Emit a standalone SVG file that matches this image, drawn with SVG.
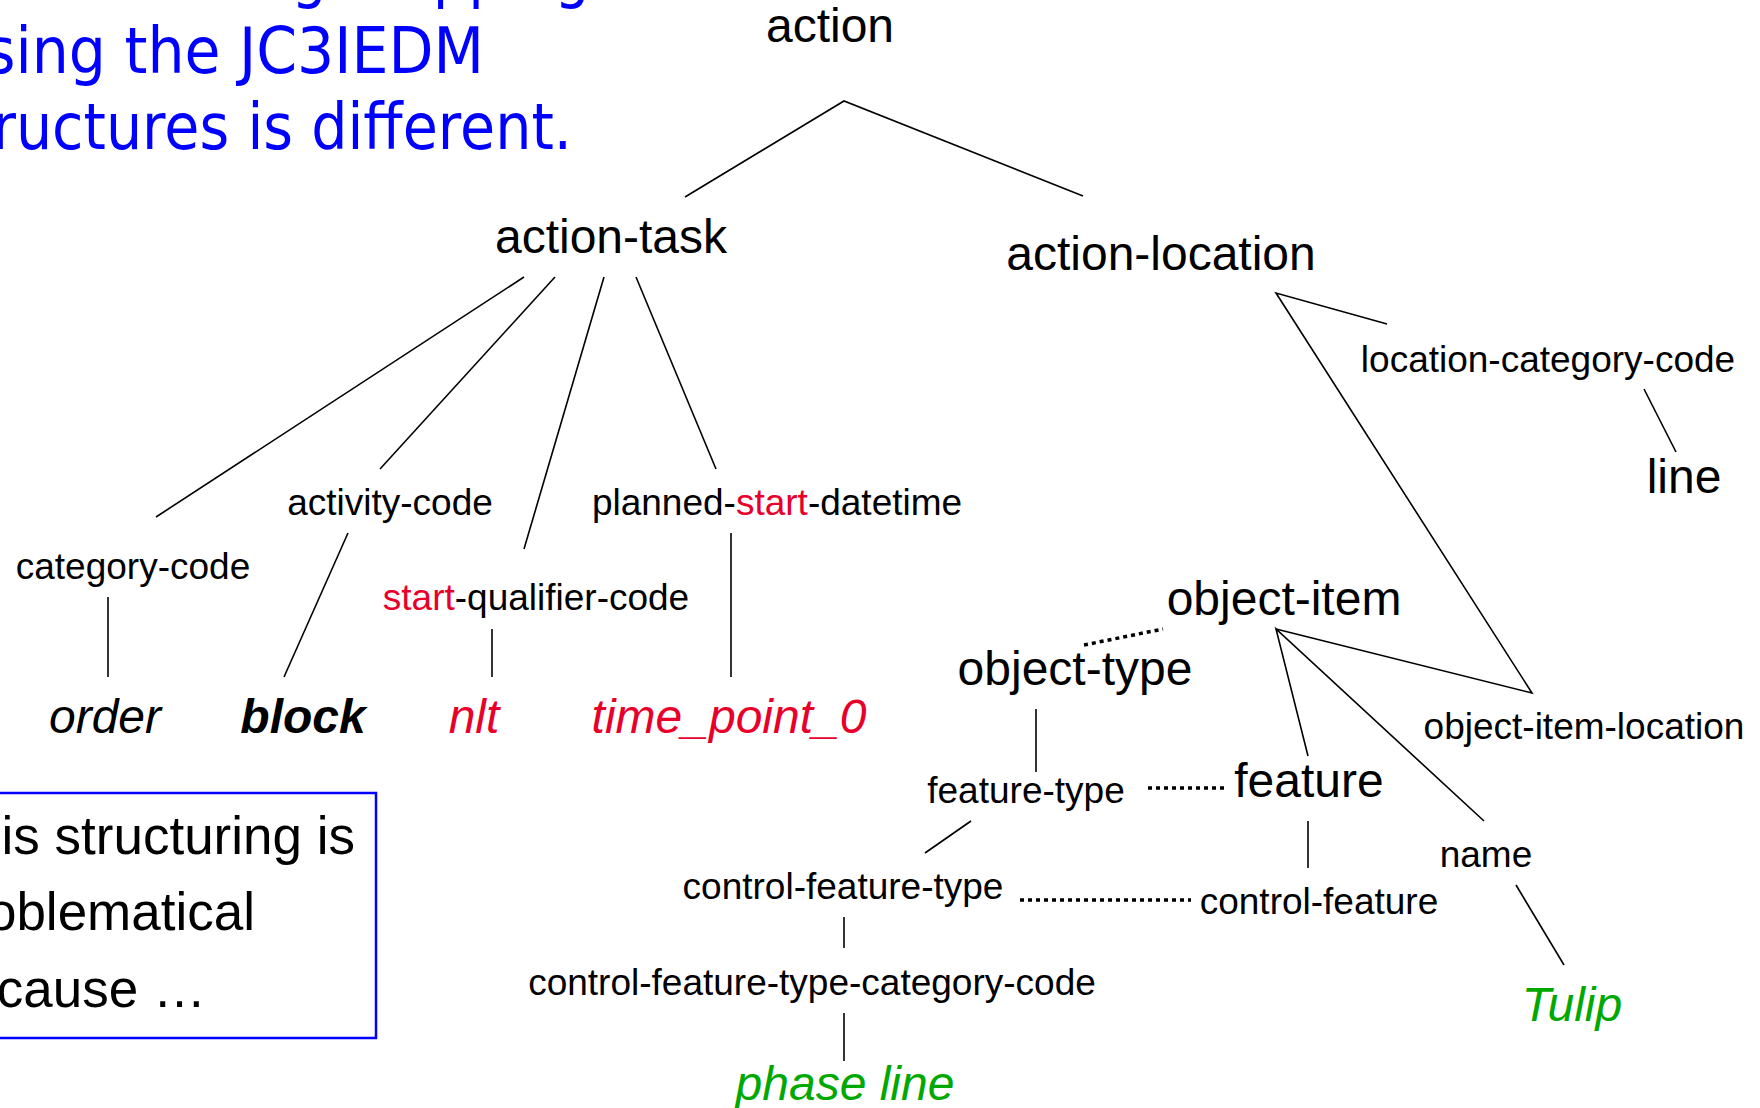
<svg xmlns="http://www.w3.org/2000/svg" width="1760" height="1108" viewBox="0 0 1760 1108">
<style>
.t{font-family:"Liberation Sans",Arial,sans-serif;fill:#000;text-anchor:middle}
.big{font-size:48px}
.sm{font-size:37px}
.it{font-style:italic}
.red{fill:#E8002A}
.grn{fill:#00A800}
.title{font-family:"DejaVu Sans",Tahoma,sans-serif;font-size:64px;fill:#0000FF}
.box{font-family:"Liberation Sans",Arial,sans-serif;font-size:53px;fill:#000;text-anchor:end}
.ln{stroke:#000;stroke-width:1.6;fill:none}
.dot{stroke:#000;stroke-width:3.5;stroke-dasharray:4 4;fill:none}
</style>
<rect width="1760" height="1108" fill="#fff"/>
<g id="title">
<text class="title" x="83" y="-4" textLength="507" lengthAdjust="spacingAndGlyphs">resulting mapping</text>
<text class="title" x="-15" y="73" textLength="499" lengthAdjust="spacingAndGlyphs">sing the JC3IEDM</text>
<text class="title" x="-30" y="149" textLength="602" lengthAdjust="spacingAndGlyphs">tructures is different.</text>
</g>
<g id="note">
<rect x="-5" y="793" width="381" height="245" fill="none" stroke="#0000FF" stroke-width="2.5"/>
<text class="box" x="355" y="854">is structuring is</text>
<text class="box" x="255" y="930">oblematical</text>
<text class="box" x="206" y="1007">cause …</text>
</g>
<g id="connectors">
<path class="ln" d="M685,197 L844,101 L1083,196"/>
<path class="ln" d="M524,277 L156,517"/>
<path class="ln" d="M555,277 L380,469"/>
<path class="ln" d="M604,277 L524,549"/>
<path class="ln" d="M636,277 L716,469"/>
<path class="ln" d="M108,597 L108,677"/>
<path class="ln" d="M348,533 L284,677"/>
<path class="ln" d="M492,629 L492,677"/>
<path class="ln" d="M731,533 L731,677"/>
<path class="ln" d="M1387,324 L1276,293 L1532,693 L1276,629"/>
<path class="ln" d="M1644,389 L1676,452"/>
<path class="ln" d="M1308,756 L1276,629 L1484,821"/>
<path class="ln" d="M1036,709 L1036,772"/>
<path class="ln" d="M971,821 L925,853"/>
<path class="ln" d="M1308,821 L1308,868"/>
<path class="ln" d="M844,917 L844,948"/>
<path class="ln" d="M844,1013 L844,1061"/>
<path class="ln" d="M1516,885 L1564,965"/>
<path class="dot" d="M1084,645 L1163,629"/>
<path class="dot" d="M1148,788 L1224,788"/>
<path class="dot" d="M1020,900 L1191,900"/>
</g>
<g id="n-action"><text class="t big" x="830" y="42">action</text></g>
<g id="n-action-task"><text class="t big" x="611" y="253">action-task</text></g>
<g id="n-action-location"><text class="t big" x="1161" y="270">action-location</text></g>
<g id="n-location-category-code"><text class="t sm" x="1548" y="372">location-category-code</text></g>
<g id="n-line"><text class="t big" x="1684" y="493">line</text></g>
<g id="n-activity-code"><text class="t sm" x="390" y="515">activity-code</text></g>
<g id="n-planned-start-datetime"><text class="t sm" x="777" y="515">planned-<tspan class="red">start</tspan>-datetime</text></g>
<g id="n-category-code"><text class="t sm" x="133" y="579">category-code</text></g>
<g id="n-start-qualifier-code"><text class="t sm" x="536" y="610"><tspan class="red">start</tspan>-qualifier-code</text></g>
<g id="n-order"><text class="t big it" x="105" y="733">order</text></g>
<g id="n-block"><text class="t big it" x="303" y="733" font-weight="bold">block</text></g>
<g id="n-nlt"><text class="t big it red" x="474" y="733">nlt</text></g>
<g id="n-time-point"><text class="t big it red" x="729" y="733">time_point_0</text></g>
<g id="n-object-item"><text class="t big" x="1284" y="615">object-item</text></g>
<g id="n-object-type"><text class="t big" x="1075" y="685">object-type</text></g>
<g id="n-object-item-location"><text class="t sm" x="1584" y="739">object-item-location</text></g>
<g id="n-feature-type"><text class="t sm" x="1026" y="803">feature-type</text></g>
<g id="n-feature"><text class="t big" x="1309" y="797">feature</text></g>
<g id="n-control-feature-type"><text class="t sm" x="843" y="899">control-feature-type</text></g>
<g id="n-control-feature"><text class="t sm" x="1319" y="914">control-feature</text></g>
<g id="n-name"><text class="t sm" x="1486" y="867">name</text></g>
<g id="n-cftcc"><text class="t sm" x="812" y="995">control-feature-type-category-code</text></g>
<g id="n-phase-line"><text class="t big it grn" x="845" y="1100">phase line</text></g>
<g id="n-tulip"><text class="t big it grn" x="1572" y="1021">Tulip</text></g>
</svg>
